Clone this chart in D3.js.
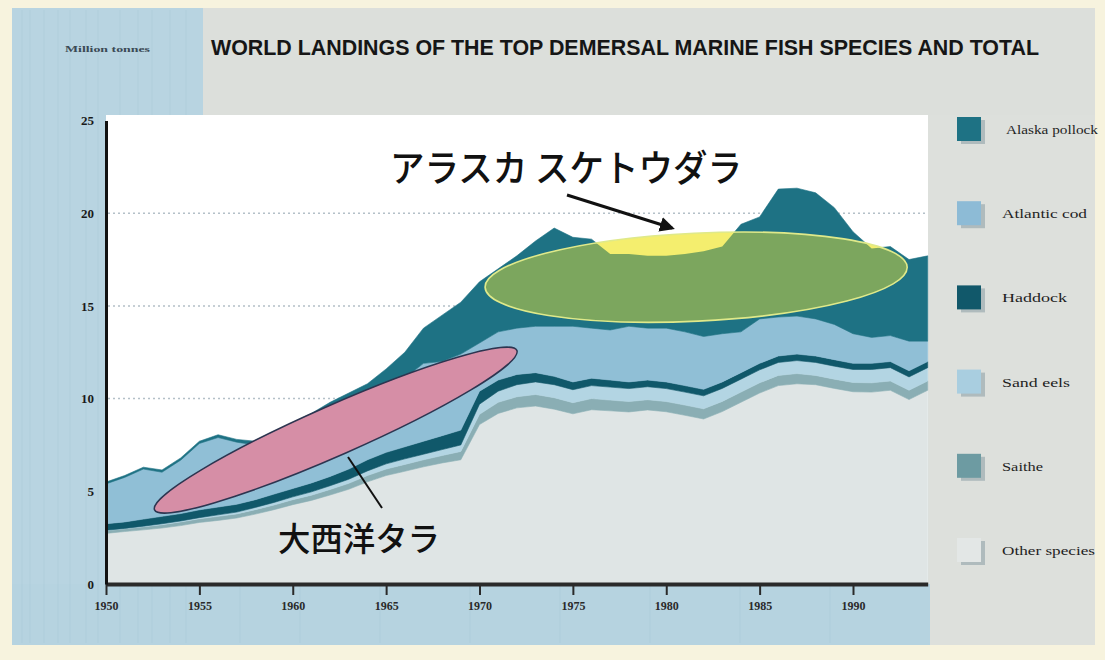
<!DOCTYPE html>
<html>
<head>
<meta charset="utf-8">
<script src="https://cdn.jsdelivr.net/npm/d3@7"></script>
<style>
  html, body { margin: 0; padding: 0; background: #f7f3de; }
  svg { display: block; }
</style>
</head>
<body>
<svg id="chart" width="1105" height="660"></svg>
<script>
// World landings of the top demersal marine fish species, million tonnes
const years = [1950,1951,1952,1953,1954,1955,1956,1957,1958,1959,
               1960,1961,1962,1963,1964,1965,1966,1967,1968,1969,
               1970,1971,1972,1973,1974,1975,1976,1977,1978,1979,
               1980,1981,1982,1983,1984,1985,1986,1987,1988,1989,
               1990,1991,1992,1993,1994];

const otherSpecies = [2.73,2.83,2.92,3.02,3.15,3.32,3.43,3.56,3.77,4.01,
                      4.28,4.51,4.80,5.11,5.51,5.85,6.08,6.32,6.53,6.70,
                      8.60,9.20,9.50,9.60,9.43,9.18,9.40,9.34,9.28,9.39,
                      9.29,9.10,8.90,9.30,9.80,10.30,10.70,10.80,10.75,10.55,
                      10.37,10.35,10.45,9.95,10.45];
const saithe = [0.15,0.15,0.17,0.18,0.20,0.20,0.22,0.22,0.24,0.25,
                0.27,0.28,0.30,0.32,0.34,0.35,0.37,0.38,0.40,0.45,
                0.55,0.60,0.60,0.62,0.62,0.60,0.60,0.58,0.56,0.55,
                0.55,0.55,0.55,0.55,0.55,0.55,0.55,0.55,0.50,0.50,
                0.50,0.50,0.50,0.50,0.50];
const sandEels = [0.02,0.02,0.03,0.05,0.05,0.06,0.08,0.10,0.12,0.14,
                  0.15,0.18,0.20,0.22,0.25,0.28,0.30,0.30,0.32,0.35,
                  0.55,0.60,0.65,0.68,0.70,0.70,0.70,0.70,0.70,0.70,
                  0.70,0.70,0.70,0.70,0.70,0.70,0.70,0.70,0.70,0.70,
                  0.70,0.72,0.72,0.72,0.72];
const haddock = [0.35,0.35,0.38,0.40,0.40,0.42,0.42,0.42,0.42,0.45,
                 0.45,0.48,0.50,0.55,0.60,0.62,0.65,0.70,0.75,0.80,
                 0.70,0.60,0.55,0.50,0.45,0.42,0.40,0.38,0.36,0.36,
                 0.36,0.35,0.35,0.35,0.35,0.35,0.35,0.35,0.35,0.35,
                 0.33,0.33,0.33,0.33,0.33];
const atlanticCod = [2.15,2.40,2.70,2.38,2.88,3.58,3.75,3.35,2.95,3.10,
                     3.15,3.25,3.40,3.40,3.30,3.50,3.70,4.20,4.00,4.10,
                     2.60,2.60,2.50,2.50,2.70,3.00,2.70,2.70,3.00,2.80,
                     2.90,2.90,2.85,2.60,2.20,2.40,2.10,2.05,2.00,1.90,
                     1.60,1.40,1.40,1.60,1.10];
const alaskaPollock = [0.10,0.10,0.10,0.12,0.12,0.12,0.15,0.15,0.20,0.25,
                       0.40,0.50,0.60,0.70,0.80,1.00,1.40,1.90,2.50,2.80,
                       3.30,3.40,3.90,4.60,5.30,4.80,4.80,4.10,3.90,3.90,
                       3.90,4.20,4.60,4.70,5.80,5.50,6.90,6.90,6.80,6.30,
                       5.50,4.80,4.80,4.40,4.60];

const seriesKeys = ["other", "saithe", "sandEels", "haddock", "cod", "pollock"];
const seriesColors = {
  other: "#dfe5e5", saithe: "#8aaeb4", sandEels: "#b3d5e3",
  haddock: "#10586a", cod: "#90bfd6", pollock: "#1e7284"
};

const legendLabels = ["Alaska pollock", "Atlantic cod", "Haddock", "Sand eels", "Saithe", "Other species"];
const legendKeys = ["pollock", "cod", "haddock", "sandEels", "saithe", "other"];
const legendWidths = [95, 85, 65, 68, 41, 93];
const legendColors = {
  pollock: "#1e7284", cod: "#8dbbd6", haddock: "#11586a",
  sandEels: "#a9cee0", saithe: "#6d9ba2", other: "#e3e7e6"
};

const xTicks = [1950,1955,1960,1965,1970,1975,1980,1985,1990];
const yTicks = [0,5,10,15,20,25];
const gridValues = [10,15,20];

const titleText = "WORLD LANDINGS OF THE TOP DEMERSAL MARINE FISH SPECIES AND TOTAL";
const unitText = "Million tonnes";
const pollockNote = "アラスカ スケトウダラ";
const codNote = "大西洋タラ";

const rows = years.map((yr, i) => ({
  year: yr, other: otherSpecies[i], saithe: saithe[i], sandEels: sandEels[i],
  haddock: haddock[i], cod: atlanticCod[i], pollock: alaskaPollock[i]
}));

const svg = d3.select("#chart");

// scales
const x = d3.scaleLinear().domain([1950, 1994]).range([106, 927.7]);
const y = d3.scaleLinear().domain([0, 25]).range([584, 120.5]);

// poster panels
svg.append("rect").attr("width", 1105).attr("height", 660).attr("fill", "#f7f3de");
svg.append("rect").attr("x", 12).attr("y", 8).attr("width", 191).attr("height", 637).attr("fill", "#b8d4e1");
svg.append("rect").attr("x", 203).attr("y", 8).attr("width", 892).attr("height", 108).attr("fill", "#dcdfdb");
svg.append("rect").attr("x", 928).attr("y", 115).attr("width", 167).attr("height", 530).attr("fill", "#dde0dc");
svg.append("rect").attr("x", 12).attr("y", 584).attr("width", 918).attr("height", 61).attr("fill", "#b6d3e0");

// faint vertical streaks in the blue strip (kept behind the plot panel)
const streaks = svg.append("g").attr("opacity", 0.25);
[22, 30, 44, 58, 70, 86, 98, 120, 138, 152, 170, 186, 240, 300, 380, 470, 560, 650, 740, 830].forEach(sx => {
  streaks.append("line").attr("x1", sx).attr("x2", sx)
    .attr("y1", sx < 203 ? 10 : 586).attr("y2", 643)
    .attr("stroke", "#9fc2d3").attr("stroke-width", 1.2);
});

svg.append("rect").attr("x", 106).attr("y", 115).attr("width", 822).attr("height", 469).attr("fill", "#ffffff");

// title block
svg.append("text").attr("x", 211).attr("y", 55)
  .attr("font-family", "Liberation Sans, Arial, sans-serif").attr("font-weight", "bold")
  .attr("font-size", 22).attr("fill", "#161616")
  .attr("textLength", 828).attr("lengthAdjust", "spacingAndGlyphs")
  .text(titleText);
svg.append("text").attr("x", 65).attr("y", 52)
  .attr("font-family", "Liberation Serif, serif").attr("font-weight", "bold")
  .attr("font-size", 8).attr("fill", "#3b4a55")
  .attr("textLength", 85).attr("lengthAdjust", "spacingAndGlyphs")
  .text(unitText);

// gridlines
svg.append("g").selectAll("line").data(gridValues).join("line")
  .attr("x1", 108).attr("x2", 928)
  .attr("y1", d => y(d)).attr("y2", d => y(d))
  .attr("stroke", "#b4c0c8").attr("stroke-width", 1.5).attr("stroke-dasharray", "2,3");

// stacked areas
const stack = d3.stack().keys(seriesKeys);
const layers = stack(rows);
const area = d3.area()
  .x(d => x(d.data.year))
  .y0(d => y(d[0]))
  .y1(d => y(d[1]));

svg.append("g").selectAll("path").data(layers).join("path")
  .attr("d", area)
  .attr("fill", d => seriesColors[d.key])
  .attr("stroke", d => seriesColors[d.key])
  .attr("stroke-width", 0.6);

// clip path for the whole stacked total
const totalArea = d3.area()
  .x(d => x(d.data.year))
  .y0(y(0))
  .y1(d => y(d[1]));
const defs = svg.append("defs");
defs.append("clipPath").attr("id", "stackClip")
  .append("path").attr("d", totalArea(layers[layers.length - 1]));

defs.append("marker").attr("id", "arrowHead")
  .attr("viewBox", "0 0 10 10").attr("refX", 8).attr("refY", 5)
  .attr("markerWidth", 5).attr("markerHeight", 5).attr("orient", "auto")
  .append("path").attr("d", "M0,0 L10,5 L0,10 Z").attr("fill", "#111");

// ellipse spanning two data-space tips with a given half thickness in px
function tipEllipse(g, tipA, tipB, halfThick) {
  const ax = x(tipA[0]), ay = y(tipA[1]), bx = x(tipB[0]), by = y(tipB[1]);
  const cx = (ax + bx) / 2, cy = (ay + by) / 2;
  const rx = Math.hypot(bx - ax, by - ay) / 2;
  const ang = Math.atan2(by - ay, bx - ax) * 180 / Math.PI;
  return g.append("ellipse").attr("cx", cx).attr("cy", cy).attr("rx", rx).attr("ry", halfThick)
    .attr("transform", `rotate(${ang},${cx},${cy})`);
}

// Alaska pollock highlight: yellow over the open chart, green where it lies on the stack
const pollockTipL = [1970.3, 16.0], pollockTipR = [1992.9, 17.1];
const hl = svg.append("g");
tipEllipse(hl, pollockTipL, pollockTipR, 44).attr("fill", "#f4ee6e");
tipEllipse(hl.append("g").attr("clip-path", "url(#stackClip)"), pollockTipL, pollockTipR, 44)
  .attr("fill", "#7ca65e");
tipEllipse(hl, pollockTipL, pollockTipR, 44)
  .attr("fill", "none").attr("stroke", "#dfe98a").attr("stroke-width", 1.6);

// Atlantic cod highlight
tipEllipse(svg.append("g"), [1952.6, 4.0], [1972.0, 12.6], 25)
  .attr("fill", "#d68ea6").attr("stroke", "#2d3550").attr("stroke-width", 1.5);

// axes
const xAxis = svg.append("g").attr("transform", `translate(0,${y(0)})`)
  .call(d3.axisBottom(x).tickValues(xTicks).tickFormat(d3.format("d"))
    .tickSize(11).tickSizeOuter(0).tickPadding(6));
xAxis.select(".domain").attr("stroke", "#2a2a2a").attr("stroke-width", 4);
xAxis.selectAll(".tick line").attr("stroke", "#2a2a2a").attr("stroke-width", 2);
xAxis.selectAll(".tick text")
  .attr("font-family", "Liberation Serif, serif").attr("font-weight", "bold")
  .attr("font-size", 12).attr("fill", "#2a2a2a");

const yAxis = svg.append("g").attr("transform", `translate(${x(1950)},0)`)
  .call(d3.axisLeft(y).tickValues(yTicks).tickSize(0).tickSizeOuter(0).tickPadding(12));
yAxis.select(".domain").attr("stroke", "#111").attr("stroke-width", 3);
yAxis.selectAll(".tick text")
  .attr("font-family", "Liberation Serif, serif").attr("font-weight", "bold")
  .attr("font-size", 13).attr("fill", "#1a1a1a");

// legend
const legend = svg.append("g");
legendKeys.forEach((k, i) => {
  const cy = 130 + i * 84.2;
  legend.append("rect").attr("x", 961).attr("y", cy - 10).attr("width", 24).attr("height", 24)
    .attr("fill", "#a4b1b5").attr("opacity", 0.8);
  legend.append("rect").attr("x", 957).attr("y", cy - 13).attr("width", 24).attr("height", 24)
    .attr("fill", legendColors[k]);
  legend.append("text").attr("x", i === 0 ? 1006 : 1002).attr("y", cy + 4)
    .attr("font-family", "Liberation Serif, serif").attr("font-size", 12.5)
    .attr("fill", "#1f1f1f")
    .attr("textLength", i === 0 ? 92 : legendWidths[i]).attr("lengthAdjust", "spacingAndGlyphs")
    .text(legendLabels[i]);
});

// Japanese annotations
svg.append("text").attr("x", 390).attr("y", 166)
  .attr("dominant-baseline", "central")
  .attr("font-family", "Noto Sans CJK JP, sans-serif").attr("font-weight", 500).attr("font-size", 37)
  .attr("fill", "#111").attr("textLength", 352).attr("lengthAdjust", "spacingAndGlyphs")
  .text(pollockNote);
svg.append("line").attr("x1", 567).attr("y1", 195).attr("x2", 672).attr("y2", 228)
  .attr("stroke", "#111").attr("stroke-width", 3).attr("marker-end", "url(#arrowHead)");

svg.append("text").attr("x", 278).attr("y", 537)
  .attr("dominant-baseline", "central")
  .attr("font-family", "Noto Sans CJK JP, sans-serif").attr("font-weight", 500).attr("font-size", 33)
  .attr("fill", "#111").attr("textLength", 162).attr("lengthAdjust", "spacingAndGlyphs")
  .text(codNote);
svg.append("line").attr("x1", 348).attr("y1", 457).attr("x2", 382).attr("y2", 508)
  .attr("stroke", "#111").attr("stroke-width", 2);
</script>
</body>
</html>
